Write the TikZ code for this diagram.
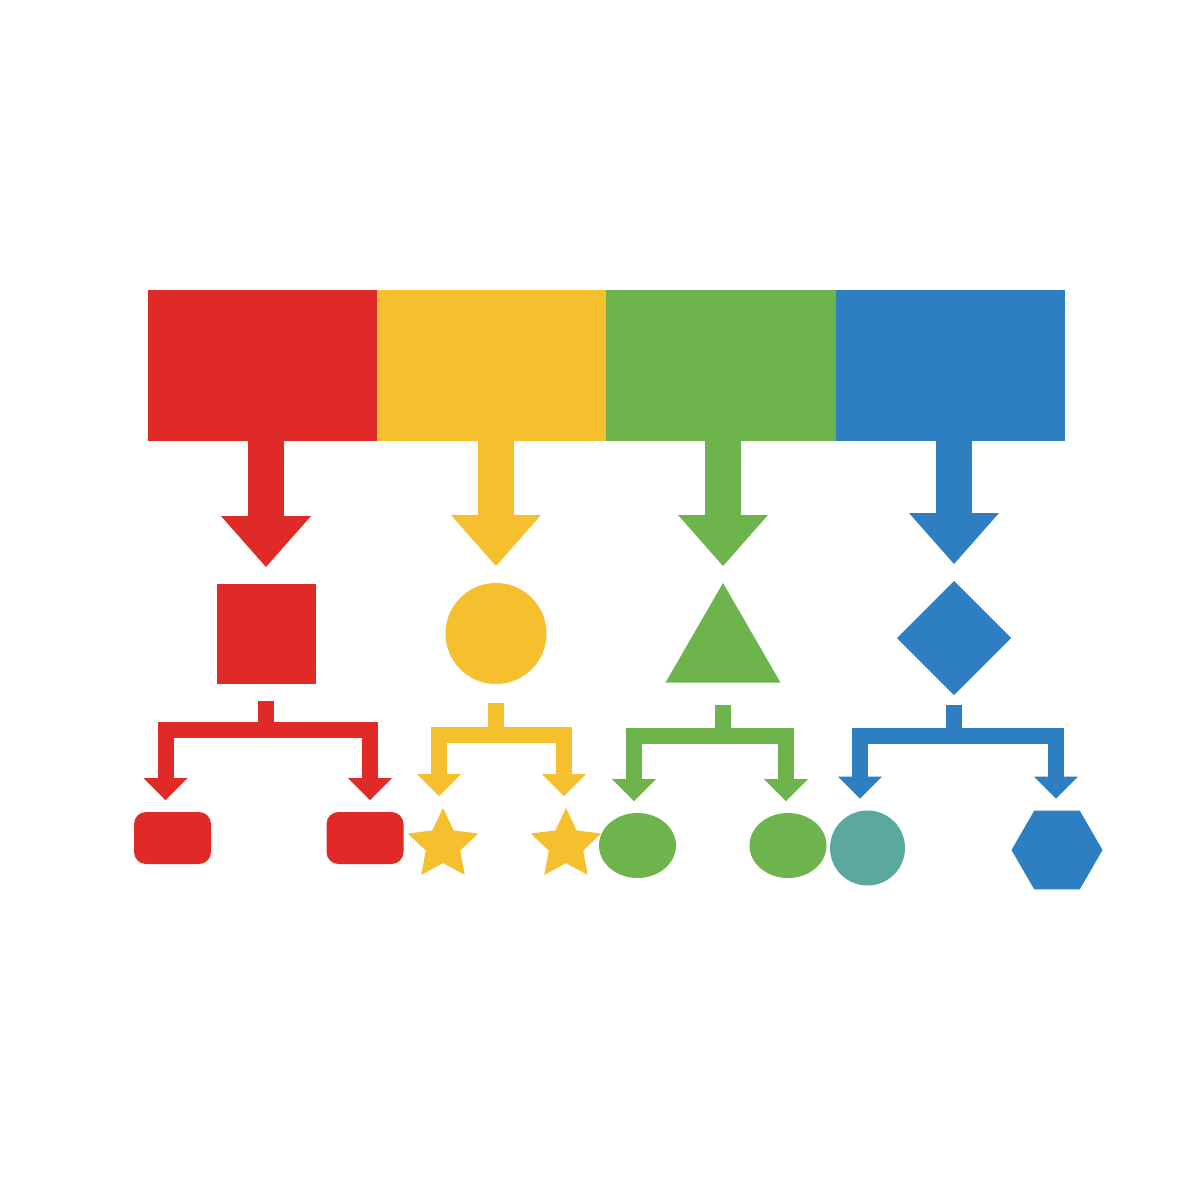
\documentclass[tikz,border=0pt]{standalone}
\usetikzlibrary{shapes.geometric,arrows.meta,calc}
\definecolor{cR}{RGB}{224,42,39}
\definecolor{cY}{RGB}{246,191,46}
\definecolor{cG}{RGB}{110,180,77}
\definecolor{cB}{RGB}{46,127,194}
\definecolor{cT}{RGB}{91,168,158}
\begin{document}
\begin{tikzpicture}[x=1pt,y=-1pt,
  shp/.style={inner sep=0pt,outer sep=0pt,draw=none},
  barseg/.style={shp,rectangle,minimum width=229.8pt,minimum height=151pt},
  bigarrow/.style={line width=36pt,-{Triangle[width=90pt,length=51pt,line width=0pt]},shorten >=17pt},
  branch/.style={line width=16pt,-{Triangle[width=44pt,length=22pt,line width=0pt]},shorten >=12pt,line join=miter},
  stub/.style={line width=16pt},
  starshape/.style={shp,star,star points=5,star point ratio=2.05,fill=cY,minimum size=74pt}]
\fill[white] (0,0) rectangle (1200,1200);
\useasboundingbox (0,0) rectangle (1200,1200);
% top bar
\node[barseg,fill=cR] (barR) at (262.75,365.5) {};
\node[barseg,fill=cY] (barY) at (492.0,365.5) {};
\node[barseg,fill=cG] (barG) at (721.25,365.5) {};
\node[barseg,fill=cB] (barB) at (950.5,365.5) {};
% middle shapes
\node[shp,rectangle,fill=cR,minimum width=99pt,minimum height=100pt] (sq) at (266,634) {};
\node[shp,circle,fill=cY,minimum size=101pt] (circ) at (496,633.5) {};
\node[shp,regular polygon,regular polygon sides=3,fill=cG,minimum size=132.8pt] (tri) at (723,649.4) {};
\node[shp,diamond,fill=cB,minimum width=114pt,minimum height=114pt] (dia) at (954,638) {};
% children
\node[shp,rectangle,rounded corners=12pt,fill=cR,minimum width=77pt,minimum height=52pt] (r1) at (172.5,838) {};
\node[shp,rectangle,rounded corners=12pt,fill=cR,minimum width=77pt,minimum height=52pt] (r2) at (365,838) {};
\node[starshape] (s1) at (443,845) {};
\node[starshape] (s2) at (566,845) {};
\node[shp,ellipse,fill=cG,minimum width=77pt,minimum height=65pt] (e1) at (637.5,845.5) {};
\node[shp,ellipse,fill=cG,minimum width=77pt,minimum height=65pt] (e2) at (788,845.5) {};
\node[shp,circle,fill=cT,minimum size=75pt] (tc) at (867.5,848) {};
\node[shp,regular polygon,regular polygon sides=6,fill=cB,minimum size=91pt] (hex) at (1057,850) {};
% big arrows
\draw[bigarrow,cR] (sq |- barR.south) -- (sq.north);
\draw[bigarrow,cY] (circ |- barY.south) -- (circ.north);
\draw[bigarrow,cG] (tri |- barG.south) -- (tri.north);
\draw[bigarrow,cB] (dia |- barB.south) -- (dia.north);
% junctions
\coordinate (jR) at ($(sq.south)+(0,45.5)$);
\coordinate (jY) at ($(circ.south)+(0,51)$);
\coordinate (jG) at ($(tri.south)+(0,53)$);
\coordinate (jB) at ($(dia.south)+(0,40.5)$);
% stubs
\draw[stub,cR] ($(sq.south)+(0,17)$) -- (jR);
\draw[stub,cY] ($(circ.south)+(0,19)$) -- (jY);
\draw[stub,cG] ($(tri.south)+(0,22)$) -- (jG);
\draw[stub,cB] ($(dia.south)+(0,10)$) -- (jB);
% branches
\draw[branch,cR] (jR) -| ($(r1.north)+(-7,0)$);
\draw[branch,cR] (jR) -| ($(r2.north)+(5,0)$);
\draw[branch,cY] (jY) -| ($(s1.north)+(-4,0)$);
\draw[branch,cY] (jY) -| ($(s2.north)+(-2,0)$);
\draw[branch,cG] (jG) -| ($(e1.north)+(-3.5,0)$);
\draw[branch,cG] (jG) -| ($(e2.north)+(-2,0)$);
\draw[branch,cB] (jB) -| ($(tc.north)+(-7.5,0)$);
\draw[branch,cB] (jB) -| ($(hex.north)+(-1,0)$);
\end{tikzpicture}
\end{document}
